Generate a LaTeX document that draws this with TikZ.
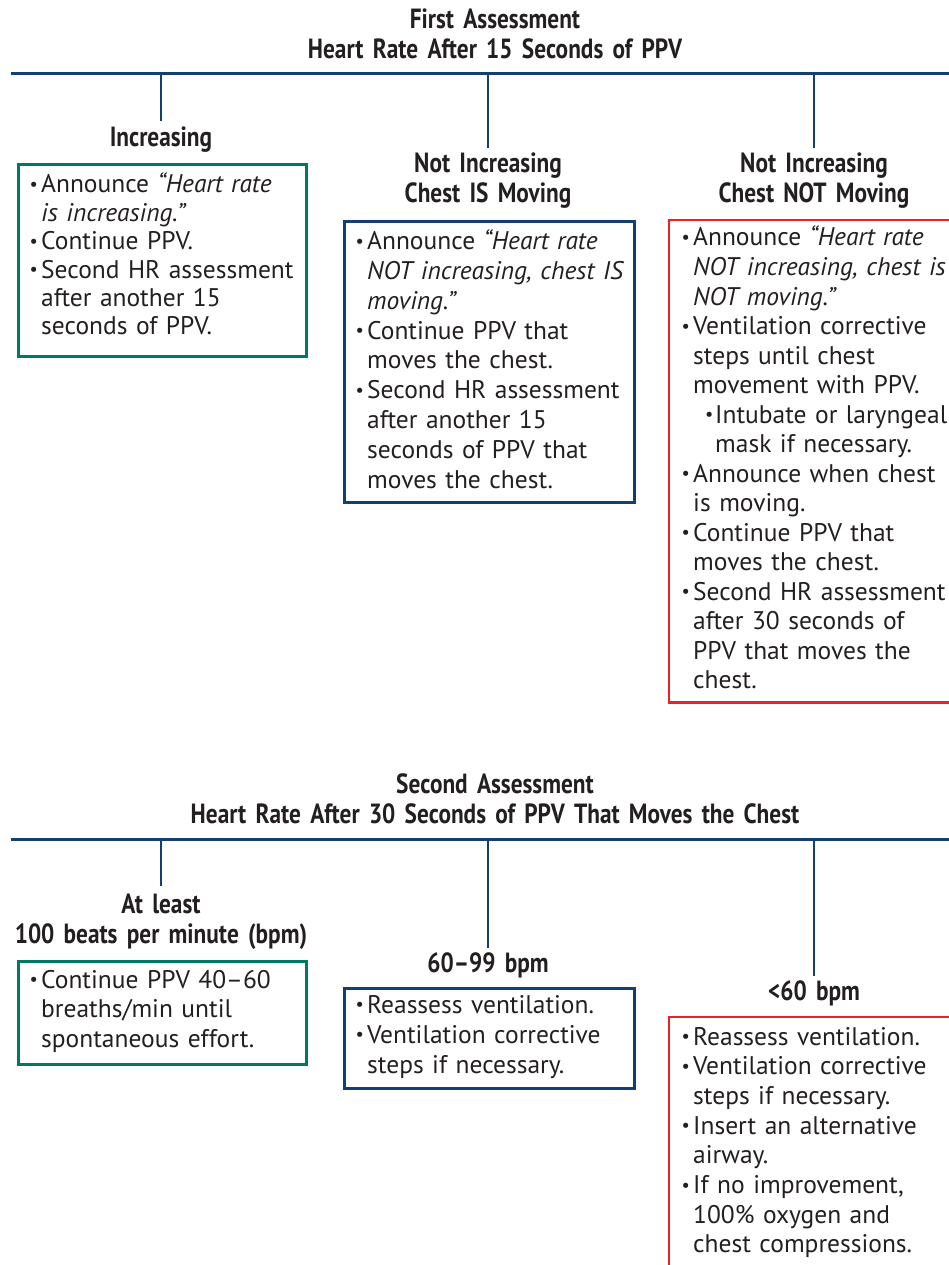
\documentclass[tikz,border=0pt]{standalone}
\usepackage{fontspec}
\usepackage{graphicx}
\setmainfont{PT Sans}
\newfontfamily\hdfont[FakeStretch=0.84]{PT Sans}
\definecolor{lineblue}{RGB}{20,63,115}
\definecolor{boxgreen}{RGB}{0,120,100}
\definecolor{boxred}{RGB}{232,35,40}
\definecolor{inktext}{RGB}{35,31,32}
\newlength\calw
\newcommand\bulglyph{\raisebox{0.09em}{\scalebox{0.72}{\textbullet}}}
\newcommand\bulx{\makebox[12pt][l]{\hspace*{0.5pt}\bulglyph}}
\newcommand\indx{\hspace*{12pt}}
\newcommand\subbulx{\hspace*{24pt}\makebox[10pt][l]{\bulglyph}}
\newcommand\subindx{\hspace*{34pt}}
\begin{document}
\settowidth\calw{\fontsize{10pt}{12pt}\selectfont Second HR assessment}%
\pgfmathsetmacro\bsz{2490/\calw}%
\settowidth\calw{\hdfont\fontsize{10pt}{12pt}\selectfont\bfseries Heart Rate After 30 Seconds of PPV That Moves the Chest}%
\pgfmathsetmacro\hsz{5750/\calw}%
\begin{tikzpicture}[x=1pt,y=-1pt,
  bar/.style={draw=lineblue,line width=3pt},
  conn/.style={draw=lineblue,line width=2.6pt},
  gbox/.style={draw=boxgreen,line width=2.6pt,rectangle,inner sep=0pt},
  bbox/.style={draw=lineblue,line width=2.6pt,rectangle,inner sep=0pt},
  rline/.style={draw=boxred,line width=2.6pt},
  body/.style={font=\fontsize{\bsz pt}{#1 pt}\selectfont, text=inktext,
    anchor=base west, inner sep=0pt, text width=300pt, align=left},
  head/.style={font=\hdfont\fontsize{\hsz pt}{30pt}\selectfont\bfseries, text=inktext,
    anchor=base, inner sep=0pt, text width=#1, align=center},
  head/.default=320pt]
\useasboundingbox (0,0) rectangle (949,1265);
\clip (0,0) rectangle (949,1265);

% ---------- First assessment ----------
\node[head=700pt] (title1) at (495,29) {First Assessment\\Heart Rate After 15 Seconds of PPV};
\coordinate (barA0) at (11,74);
\coordinate (barA1) at (960,74);
\draw[bar] (barA0) -- (barA1);
\coordinate (a1) at (161,74); \coordinate (a1e) at (161,121);
\coordinate (a2) at (488,74); \coordinate (a2e) at (488,148);
\coordinate (a3) at (814,74); \coordinate (a3e) at (814,148);
\draw[conn] (a1) -- (a1e);
\draw[conn] (a2) -- (a2e);
\draw[conn] (a3) -- (a3e);

\node[head] (h1) at (161,147) {Increasing};
\node[head] (h2) at (488,173) {Not Increasing\\Chest IS Moving};
\node[head] (h3) at (814,173) {Not Increasing\\Chest NOT Moving};

\node[gbox,anchor=north west,minimum width=288pt,minimum height=192pt] (box1) at (17,163) {};
\node[bbox,anchor=north west,minimum width=290pt,minimum height=281pt] (box2) at (343,220) {};
\node[rectangle,inner sep=0pt,anchor=north west,minimum width=300pt,minimum height=482pt] (box3) at (669,220) {};
\draw[rline] (box3.north east) -- (box3.north west) -- (box3.south west) -- (box3.south east);

\node[body=28.4] (t1) at (29,193) {\bulx Announce \textit{“Heart rate}\\
\indx\textit{is increasing.”}\\
\bulx Continue PPV.\\
\bulx Second HR assessment\\
\indx after another 15\\
\indx seconds of PPV.};

\node[body=29.75] (t2) at (355,250) {\bulx Announce \textit{“Heart rate}\\
\indx\textit{NOT increasing, chest IS}\\
\indx\textit{moving.”}\\
\bulx Continue PPV that\\
\indx moves the chest.\\
\bulx Second HR assessment\\
\indx after another 15\\
\indx seconds of PPV that\\
\indx moves the chest.};

\node[body=29.5] (t3) at (681,246) {\bulx Announce \textit{“Heart rate}\\
\indx\textit{NOT increasing, chest is}\\
\indx\textit{NOT moving.”}\\
\bulx Ventilation corrective\\
\indx steps until chest\\
\indx movement with PPV.\\
\subbulx Intubate or laryngeal\\
\subindx mask if necessary.\\
\bulx Announce when chest\\
\indx is moving.\\
\bulx Continue PPV that\\
\indx moves the chest.\\
\bulx Second HR assessment\\
\indx after 30 seconds of\\
\indx PPV that moves the\\
\indx chest.};

% ---------- Second assessment ----------
\node[head=700pt] (title2) at (495,793) {Second Assessment\\Heart Rate After 30 Seconds of PPV That Moves the Chest};
\coordinate (barB0) at (11,839);
\coordinate (barB1) at (960,839);
\draw[bar] (barB0) -- (barB1);
\coordinate (b1) at (161,839); \coordinate (b1e) at (161,886);
\coordinate (b2) at (488,839); \coordinate (b2e) at (488,948);
\coordinate (b3) at (814,839); \coordinate (b3e) at (814,976);
\draw[conn] (b1) -- (b1e);
\draw[conn] (b2) -- (b2e);
\draw[conn] (b3) -- (b3e);

\node[head] (k1) at (161,913) {At least\\100 beats per minute (bpm)};
\node[head] (k2) at (488,972) {60–99 bpm};
\node[head] (k3) at (814,1000) {<60 bpm};

\node[gbox,anchor=north west,minimum width=288pt,minimum height=103pt] (box4) at (17,960) {};
\node[bbox,anchor=north west,minimum width=290pt,minimum height=100pt] (box5) at (343,987) {};
\node[rectangle,inner sep=0pt,anchor=north west,minimum width=300pt,minimum height=260pt] (box6) at (669,1017) {};
\draw[rline] (box6.north east) -- (box6.north west) -- (box6.south west);

\node[body=29.5] (t4) at (29,988) {\bulx Continue PPV 40–60\\
\indx breaths/min until\\
\indx spontaneous effort.};

\node[body=30] (t5) at (355,1013) {\bulx Reassess ventilation.\\
\bulx Ventilation corrective\\
\indx steps if necessary.};

\node[body=29.7] (t6) at (681,1045) {\bulx Reassess ventilation.\\
\bulx Ventilation corrective\\
\indx steps if necessary.\\
\bulx Insert an alternative\\
\indx airway.\\
\bulx If no improvement,\\
\indx 100\% oxygen and\\
\indx chest compressions.};
\end{tikzpicture}
\end{document}
